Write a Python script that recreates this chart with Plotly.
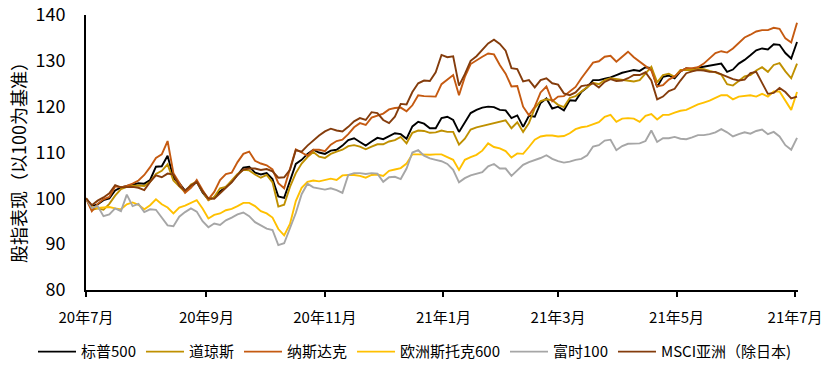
import pandas as pd
import plotly.graph_objects as go

dates = pd.date_range("2020-07-01", "2021-07-02", freq="3D")

tick_vals = ["2020-07-01", "2020-09-01", "2020-11-01", "2021-01-01",
             "2021-03-01", "2021-05-01", "2021-07-01"]
tick_text = ["20年7月", "20年9月", "20年11月", "21年1月", "21年3月", "21年5月", "21年7月"]

sp500 = [100, 98.3, 98.7, 99.6, 100, 101.7, 102.4, 102.7, 103.1, 103.3,
         103.2, 104, 106.9, 107, 109.3, 104.5, 103.3, 101.7, 102.4, 103.6,
         101.3, 99.7, 100.2, 101.5, 102.5, 103.6, 105.1, 106.7, 106.9, 105.6,
         105.2, 105.5, 104.2, 100.4, 100.1, 103.6, 107.5, 108.4, 109.7, 110.6,
         110, 109.7, 110.4, 110.6, 111.5, 112.7, 113.1, 112.3, 111.5, 112.4,
         113.2, 112.9, 113.6, 114.2, 114, 113, 115.7, 116.7, 116.3, 115.3,
         115.3, 117.5, 117.8, 117.1, 114.5, 116.6, 118.6, 119.3, 119.8, 120,
         119.9, 119.3, 119.2, 117.5, 118.1, 115.6, 118, 117.8, 120.8, 121.8,
         119.6, 120, 119.2, 121.4, 121.3, 123.2, 124.2, 125.8, 125.8, 126.1,
         126.4, 126.9, 127.4, 127.7, 128, 127.8, 128.6, 128.4, 124.3, 126.5,
         126.8, 126.2, 127.7, 128.4, 128.1, 128.5, 128.7, 128.9, 129.2, 129.4,
         127.6, 128.1, 129.4, 130.2, 131.2, 132.3, 132.7, 132.5, 133.6, 133.5,
         131.7, 130.5, 134.1]

dow = [100, 97.5, 97.8, 97.5, 98.8, 100.6, 102, 102.5, 102.7, 102.8,
       102.7, 103.6, 105.3, 106, 107.4, 103.9, 102.6, 101.3, 103, 103.6,
       101.5, 99.6, 100.3, 102.2, 102.5, 103.9, 105.3, 106.2, 106.1, 105.2,
       104.5, 105.1, 103.5, 98.2, 98.6, 102.5, 105.5, 107.6, 109, 110.1,
       109.1, 108.8, 109.7, 110.2, 110.6, 111.4, 111.6, 111.3, 110.7, 111.3,
       111.8, 111.8, 112.4, 112.7, 113.4, 112, 114.3, 114.8, 114.7, 114.3,
       114.4, 114.8, 114.5, 114.5, 111.7, 113, 115, 115.5, 115.8, 116.1,
       116.4, 116.7, 117, 115.3, 116.6, 114.5, 116.4, 119.7, 121.2, 121.6,
       121.4, 120.4, 119.9, 121.9, 122.3, 123.3, 124.2, 125.2, 124.9, 125.8,
       126.2, 126, 125.8, 125.7, 125.5, 125.8, 127.3, 128.7, 125.3, 126.9,
       127.2, 126.5, 128, 128, 128, 128.3, 128.2, 127.8, 127.5, 127,
       124.9, 124.6, 125.7, 126.6, 126.9, 127.9, 128.6, 127.6, 129.1, 129.5,
       127.7, 126.2, 129.4]

nasdaq = [100, 97.2, 98.8, 99.8, 100.3, 102.6, 102.4, 102.7, 103.2, 103.9,
          105.1, 106.8, 108.8, 109.6, 112.5, 105.5, 103.4, 101.2, 102.3, 104,
          101.8, 99.8, 101.4, 104, 105.3, 105.6, 107.9, 109.7, 110.2, 108.2,
          107.6, 107.2, 106.3, 103.3, 102.2, 106.5, 110.7, 110, 109.3, 110.6,
          110.6, 110.3, 111.7, 112.5, 112.8, 114, 115.5, 116.4, 116, 117.6,
          118, 118.5, 119.4, 119.7, 119.8, 119, 120.3, 122.5, 122.3, 122.2,
          122.2, 124.9, 125.8, 126.9, 122.5, 126.5, 129.3, 130.2, 130.9, 131.6,
          131.4, 129.1, 127.2, 124.4, 124.5, 120, 118.1, 120, 123.1, 124.4,
          121.2, 122.2, 122.3, 123.3, 124.3, 126.2, 127.8, 129.6, 129.9, 130.9,
          131.1, 129.8, 130.9, 132, 130.8, 129.8, 128.9, 127.9, 124.4, 124.7,
          125.9, 126.6, 127.7, 128.4, 128.4, 128.6, 129.4, 130.5, 131.7, 132.1,
          131.8, 132.7, 134, 135.1, 135.7, 136.4, 136.7, 136.7, 137.2, 137,
          134.9, 134, 138.3]

stoxx600 = [100, 98.2, 97.9, 98, 98.1, 97.8, 97.6, 98.7, 99.1, 98.6,
            97.6, 98.5, 99.8, 98.7, 98, 96.7, 98, 98.4, 99, 99.6,
            97.8, 95.6, 96.4, 96.7, 97.4, 97.7, 98.3, 99, 99, 98.3,
            97.2, 96.7, 95.8, 93.3, 91.9, 94.4, 99.4, 102.3, 103.6, 103.9,
            103.7, 104, 104.3, 104, 105, 105.1, 105.1, 104.9, 104.5, 105.1,
            105.2, 104.9, 106, 106.3, 106.6, 107.6, 109.6, 109.6, 109.5, 109.5,
            109.6, 109.6, 109, 108.4, 106.2, 108.4, 109, 109.5, 110.4, 112,
            111.2, 110.9, 110.3, 108.9, 109.8, 109.7, 111.2, 112.8, 113.5, 113.7,
            113.7, 113.5, 113.6, 114.2, 115.1, 115.5, 115.7, 116.1, 116.6, 117.8,
            118.2, 116.7, 117.4, 117.5, 117.4, 116.7, 118, 118.4, 117.2, 118.2,
            118.2, 118.7, 119.1, 119.3, 119.9, 120.5, 120.9, 121.3, 121.9, 122.5,
            122.5, 121.6, 122.2, 122.3, 122.5, 122.2, 122.8, 122.2, 123.3, 123.3,
            121.4, 119.3, 123.2]

ftse100 = [100, 97.9, 98.3, 96.1, 96.5, 97.8, 97.2, 100.8, 98.3, 98.8,
           97, 97.6, 97.5, 95.9, 94.1, 93.9, 96, 97, 97.8, 97.1,
           95, 93.7, 94.5, 94.2, 95.2, 95.8, 96.5, 96.9, 96.1, 94.8,
           94.1, 93.4, 93.1, 89.8, 90.2, 93.7, 96.8, 100.9, 103.2, 102.4,
           102.2, 101.9, 102.2, 101.8, 101.2, 105.1, 105.5, 105.5, 105.3, 105.5,
           105.4, 103.6, 104.6, 104.7, 104.2, 106.5, 110, 110.5, 109.3, 108.7,
           108.4, 108.1, 107.5, 106.2, 103.5, 104.4, 105, 105.3, 105.7, 107,
           107.5, 106.5, 106.5, 104.9, 106.1, 107.3, 107.9, 108.3, 108.8, 109.4,
           108.6, 108.1, 107.8, 108, 108.4, 108.6, 109.4, 111.3, 111.6, 112.6,
           112.8, 110.5, 111.4, 111.9, 112, 112, 112.5, 114.8, 112.3, 113.1,
           113.1, 113.4, 113, 112.9, 113.3, 113.8, 113.8, 114, 114.4, 115.1,
           114.4, 113.5, 114, 114.4, 114.1, 114.7, 115, 114, 114.5, 113.5,
           111.6, 110.6, 113.2]

msci_asia = [100, 98.5, 99.5, 100.2, 101.1, 102.9, 102.4, 102.4, 102.5, 102.3,
             101.8, 103.6, 105, 104.6, 105.4, 105.2, 102.7, 101.7, 102.8, 103.6,
             101.5, 100, 99.9, 101.1, 102.2, 103.5, 105.1, 106.3, 106.5, 106.5,
             106.2, 106.4, 105.9, 104.5, 104.6, 106.2, 110.5, 110.2, 111.5, 112.7,
             113.7, 114.6, 115.2, 114.8, 114.6, 115.6, 116.8, 117.5, 117.1, 118.8,
             118.6, 117.1, 116.4, 117.8, 120.6, 120.5, 123.2, 125.1, 125.7, 125.6,
             127.5, 131.3, 130.8, 131, 124.6, 127.1, 130, 131, 132.5, 133.8,
             134.6, 133.7, 132.2, 128.4, 128.2, 125.5, 125.8, 124.2, 125.8, 126.2,
             125.1, 124.8, 122.9, 122.5, 123.1, 124.5, 124.7, 125.1, 124.2, 125.4,
             126, 125.6, 125.7, 126.2, 126.9, 126.9, 127.5, 125.7, 121.6, 122.2,
             123.4, 123.9, 125.7, 127.3, 127.7, 128, 127.9, 127.6, 127.6, 127.1,
             126.5, 126, 125.7, 125.9, 127.3, 127.6, 125.2, 122.8, 123, 124.1,
             123.2, 121.8, 122.2]

series = [
    ("标普500", sp500, "#000000"),
    ("道琼斯", dow, "#BF9000"),
    ("纳斯达克", nasdaq, "#C55A11"),
    ("欧洲斯托克600", stoxx600, "#FFC000"),
    ("富时100", ftse100, "#A6A6A6"),
    ("MSCI亚洲（除日本)", msci_asia, "#843C0C"),
]

FONT = "Noto Sans CJK SC"

fig = go.Figure()
for name, vals, color in series:
    fig.add_trace(go.Scatter(x=dates, y=vals, mode="lines", name=name,
                             line=dict(color=color, width=1.9)))

fig.update_layout(
    width=833, height=374,
    margin=dict(l=86, r=35, t=15, b=84, autoexpand=False),
    paper_bgcolor="white", plot_bgcolor="white",
    font=dict(family=FONT, color="#000000"),
    showlegend=True,
    legend=dict(orientation="h", x=(33 - 86) / 712, xanchor="left",
                y=-0.225, yanchor="middle",
                font=dict(size=15, family=FONT), itemwidth=38, tracegroupgap=0,
                bgcolor="rgba(0,0,0,0)"),
    annotations=[dict(text="股指表现（以100为基准）", textangle=-90, xref="paper", yref="paper",
                      x=(18 - 86) / 712, y=0.48, xanchor="center", yanchor="middle",
                      showarrow=False, font=dict(size=18, family=FONT, color="#000000"))],
)

fig.update_xaxes(type="date", range=["2020-07-01", "2021-07-02 12:00"],
                 tickvals=tick_vals, ticktext=tick_text,
                 ticks="outside", ticklen=5, tickwidth=1.5, tickcolor="#000000",
                 showline=True, linecolor="#000000", linewidth=2,
                 showgrid=False, zeroline=False, ticklabeloverflow="allow",
                 tickfont=dict(size=15, family=FONT, color="#000000"),
                 ticklabelstandoff=8)
fig.update_yaxes(range=[80, 140], dtick=10, tick0=80,
                 showline=True, linecolor="#000000", linewidth=2,
                 showgrid=False, zeroline=False, ticks="", ticklabeloverflow="allow",
                 tickfont=dict(size=18, family=FONT, color="#000000"),
                 ticklabelstandoff=15)

# remove the default 8px page margin so the figure sits at the window's corner
fig.write_html("out.html", config={"displayModeBar": False},
               post_script="document.body.style.margin='0';")
